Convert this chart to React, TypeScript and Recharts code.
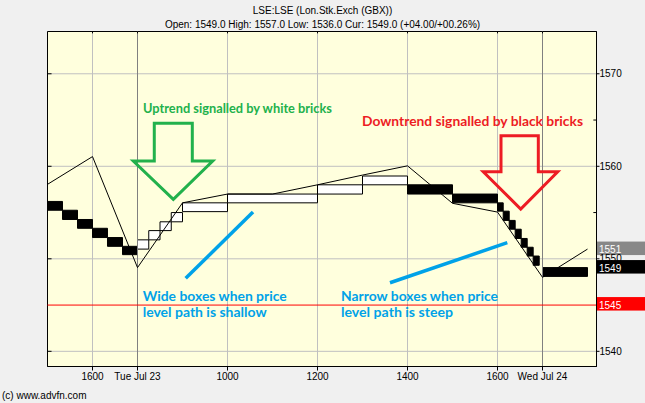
import React from 'react';
import { ComposedChart, Line, XAxis, YAxis, CartesianGrid, ReferenceArea, ReferenceLine } from 'recharts';

// hourly price path (x = trading hours from left edge)
const hours = [0, 1, 2, 3, 4, 5, 6, 7, 8, 9, 10, 11, 12];
const prices = [1558.05, 1561.05, 1549.05, 1556.05, 1557.0, 1557.0, 1558.0, 1559.05, 1560.05, 1556.0, 1555.05, 1548.0, 1551.05];

const tickHours = [1, 2, 4, 6, 8, 10, 11];
const tickLabels = ['1600', 'Tue Jul 23', '1000', '1200', '1400', '1600', 'Wed Jul 24'];
const dayBreaks = [2, 11];
const priceTicks = [1540, 1550, 1560, 1570];
const minorTicks = [1555, 1565];

// renko bricks
const brickStart = [0, 0.333, 0.667, 1, 1.333, 1.667, 2, 2.25, 2.5, 2.75, 3, 4, 6, 7, 8, 9, 10, 10.127, 10.26, 10.393, 10.527, 10.66, 10.793, 11];
const brickEnd = [0.333, 0.667, 1, 1.333, 1.667, 2, 2.25, 2.5, 2.75, 3, 4, 6, 7, 8, 9, 10, 10.127, 10.26, 10.393, 10.527, 10.66, 10.793, 10.927, 12];
const brickHigh = [1556.2, 1555.25, 1554.25, 1553.3, 1552.3, 1551.35, 1552.05, 1553.05, 1554.0, 1555.0, 1556.05, 1557.0, 1558.0, 1558.95, 1558.0, 1557.0, 1556.05, 1555.15, 1554.15, 1553.2, 1552.2, 1551.25, 1550.3, 1549.05];
const brickLow = [1555.25, 1554.25, 1553.3, 1552.3, 1551.35, 1550.45, 1551.05, 1552.05, 1553.05, 1554.0, 1555.1, 1556.05, 1557.0, 1558.0, 1557.0, 1556.05, 1555.15, 1554.15, 1553.2, 1552.2, 1551.25, 1550.3, 1549.3, 1548.1];
const brickUp = [false, false, false, false, false, false, true, true, true, true, true, true, true, true, false, false, false, false, false, false, false, false, false, false];

const tagValues = [1551, 1549, 1545];
const tagColors = ['#888888', '#000000', '#ff0000'];
const supportLevel = 1545;

// annotation shapes in chart units
const greenArrowT = [2.373, 3.218, 3.218, 3.671, 2.796, 1.907, 2.373, 2.373];
const greenArrowV = [1564.65, 1564.65, 1560.57, 1560.57, 1556.43, 1560.57, 1560.57, 1564.65];
const redArrowT = [10.078, 10.907, 10.907, 11.338, 10.516, 9.684, 10.078, 10.078];
const redArrowV = [1563.31, 1563.31, 1559.41, 1559.41, 1555.38, 1559.41, 1559.41, 1563.31];
const wideLineT = [3.071, 4.567];
const wideLineV = [1547.89, 1555.06];
const narrowLineT = [7.611, 10.218];
const narrowLineV = [1547.41, 1551.74];

const X_DOMAIN: [number, number] = [0, 12.2];
const Y_DOMAIN: [number, number] = [1538.36, 1574.57];

const priceData = hours.map((t, i) => ({ t, price: prices[i] }));
const toPts = (ts: number[], vs: number[]) => ts.map((t, i) => ({ t, v: vs[i] }));

const FONT = '"Liberation Sans", Arial, sans-serif';
const NOTE_FONT = 'Lato, "Open Sans", sans-serif';

const makeTag = (value: number, color: string) => (props: any) => {
  const vb = props.viewBox || {};
  const x = (vb.x || 0) + (vb.width || 0);
  const y = vb.y || 0;
  return (
    <g>
      <rect x={x} y={y - 8} width={50} height={13.5} fill={color} />
      <text x={x + 2.5} y={y + 3.5} fill="#fff" fontSize={10} fontFamily={FONT}>{value}</text>
    </g>
  );
};

const App: React.FC = () => {
  return (
    <div style={{ position: 'absolute', left: 0, top: 0, width: 645, height: 403, background: '#f0f0f0', overflow: 'hidden' }}>
      <ComposedChart width={645} height={403} data={priceData} margin={{ top: 31.5, right: 0, bottom: 0, left: 47.5 }}>
        <CartesianGrid stroke="#c0c0c0" fill="#ffffdd" fillOpacity={1} />
        <XAxis
          dataKey="t" type="number" domain={X_DOMAIN} allowDataOverflow ticks={tickHours} height={36.5}
          tickFormatter={(v: number) => tickLabels[tickHours.indexOf(v)] ?? ''}
          axisLine={{ stroke: '#000' }} tickLine={{ stroke: '#000' }} tickSize={4} tickMargin={2}
          tick={{ fontSize: 10, fill: '#000', fontFamily: FONT }} interval={0}
        />
        <YAxis
          orientation="right" type="number" domain={Y_DOMAIN} allowDataOverflow ticks={priceTicks} width={48.5}
          axisLine={{ stroke: '#000' }} tickLine={{ stroke: '#000' }} tickSize={3} tickMargin={0}
          tick={{ fontSize: 10, fill: '#000', fontFamily: FONT, textAnchor: 'start' }} interval={0}
        />
        {dayBreaks.map(d => (
          <ReferenceLine key={`d${d}`} x={d} stroke="#808080" />
        ))}
        {priceTicks.map(p => (
          <ReferenceLine key={`lt${p}`} segment={[{ x: 0, y: p }, { x: 0.09, y: p }]} stroke="#000" />
        ))}
        {minorTicks.map(p => (
          <ReferenceLine key={`mt${p}`} segment={[{ x: 12.13, y: p }, { x: 12.2, y: p }]} stroke="#000" />
        ))}
        {tickHours.map(h => (
          <ReferenceLine key={`tt${h}`} segment={[{ x: h, y: Y_DOMAIN[1] }, { x: h, y: Y_DOMAIN[1] - 0.2 }]} stroke="#000" />
        ))}
        <ReferenceLine y={supportLevel} stroke="#ff0000" />
        {brickStart.map((s, i) => (
          <ReferenceArea
            key={`b${i}`} x1={s} x2={brickEnd[i]} y1={brickLow[i]} y2={brickHigh[i]}
            fill={brickUp[i] ? '#ffffff' : '#000000'} fillOpacity={1} stroke="#000" strokeWidth={1} ifOverflow="visible"
          />
        ))}
        <Line dataKey="price" stroke="#000" strokeWidth={1} dot={false} activeDot={false} isAnimationActive={false} type="linear" />
        <Line data={toPts(greenArrowT, greenArrowV)} dataKey="v" stroke="#22b14c" strokeWidth={3} strokeLinejoin="miter" strokeLinecap="square" dot={false} activeDot={false} isAnimationActive={false} type="linear" />
        <Line data={toPts(redArrowT, redArrowV)} dataKey="v" stroke="#ed1c24" strokeWidth={3} strokeLinejoin="miter" strokeLinecap="square" dot={false} activeDot={false} isAnimationActive={false} type="linear" />
        <Line data={toPts(wideLineT, wideLineV)} dataKey="v" stroke="#00a2e8" strokeWidth={3.5} dot={false} activeDot={false} isAnimationActive={false} type="linear" />
        <Line data={toPts(narrowLineT, narrowLineV)} dataKey="v" stroke="#00a2e8" strokeWidth={3.5} dot={false} activeDot={false} isAnimationActive={false} type="linear" />
        <ReferenceArea x1={X_DOMAIN[0]} x2={X_DOMAIN[1]} y1={Y_DOMAIN[0]} y2={Y_DOMAIN[1]} fill="none" stroke="#000" ifOverflow="visible" />
        {tagValues.map((v, i) => (
          <ReferenceLine key={`tag${v}`} y={v} stroke="none" ifOverflow="visible" label={makeTag(v, tagColors[i])} />
        ))}
      </ComposedChart>
      <svg width={645} height={403} style={{ position: 'absolute', left: 0, top: 0, pointerEvents: 'none' }}>
        <text x={322.5} y={13.5} textAnchor="middle" fontSize={10} fontFamily={FONT} fill="#000">LSE:LSE (Lon.Stk.Exch (GBX))</text>
        <text x={322.5} y={27.5} textAnchor="middle" fontSize={10} fontFamily={FONT} fill="#000">Open: 1549.0 High: 1557.0 Low: 1536.0 Cur: 1549.0 (+04.00/+00.26%)</text>
        <text x={2} y={399} fontSize={10} fontFamily={FONT} fill="#000">(c) www.advfn.com</text>
        <g fontFamily={NOTE_FONT} fontWeight="bold" fontSize={14}>
          <text x={143} y={113.3} fill="#22b14c" textLength={189} lengthAdjust="spacingAndGlyphs">Uptrend signalled by white bricks</text>
          <text x={362} y={125.7} fill="#ed1c24" textLength={221} lengthAdjust="spacingAndGlyphs">Downtrend signalled by black bricks</text>
          <text x={142.7} y={300.5} fill="#00a2e8" textLength={144} lengthAdjust="spacingAndGlyphs">Wide boxes when price</text>
          <text x={142.7} y={316.5} fill="#00a2e8" textLength={124} lengthAdjust="spacingAndGlyphs">level path is shallow</text>
          <text x={341} y={300.5} fill="#00a2e8" textLength={157} lengthAdjust="spacingAndGlyphs">Narrow boxes when price</text>
          <text x={341} y={316.5} fill="#00a2e8" textLength={112} lengthAdjust="spacingAndGlyphs">level path is steep</text>
        </g>
      </svg>
    </div>
  );
};

export default App;
